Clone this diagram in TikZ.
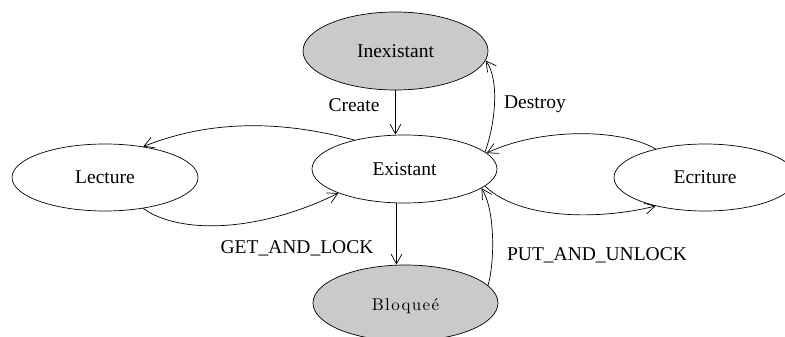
\documentclass[tikz,border=0pt]{standalone}
\usepackage{fontspec}
\setmainfont{Liberation Serif}
\newfontfamily\bloqfont[LetterSpace=8]{lmroman10-regular.otf}
\usetikzlibrary{shapes.geometric,arrows.meta,calc}
\definecolor{stategray}{RGB}{202,202,202}
\begin{document}
\begin{tikzpicture}[x=1pt,y=-1pt,
  state/.style={draw,ellipse,line width=0.7pt,minimum width=185pt,inner sep=0pt,font=\fontsize{19.5}{22}\selectfont},
  grey/.style={fill=stategray},
  conn/.style={line width=0.7pt,-{Straight Barb[length=10pt,width=11pt,line width=0.7pt]}},
  lbl/.style={font=\fontsize{19.5}{22}\selectfont,inner sep=0pt}]
\useasboundingbox (0,0) rectangle (785,337);
\clip (0,0) rectangle (785,337);
\node[state,grey,minimum height=78pt] (in) at (395.5,51) {Inexistant};
\node[state,minimum height=68pt] (ex) at (404.5,169) {Existant};
\node[state,minimum height=67pt,minimum width=186pt] (le) at (105,177.5) {Lecture};
\node[state,minimum height=67pt,minimum width=182pt] (ec) at (705,177.5) {Ecriture};
\node[state,grey,minimum height=76pt,font=\bloqfont\fontsize{17}{19}\selectfont,text depth=0pt,text height=14pt] (bl) at (405.5,303) {Bloqueé};
% Create
\draw[conn] (in.south) -- (in.south |- ex.north);
% Destroy
\draw[conn] (ex.12) .. controls (495,125) and (500,80) .. (in.-6);
% Existant -> Lecture
\draw[conn] (ex.150) .. controls (280,120) and (210,120) .. (le.39);
% Lecture -> Existant
\draw[conn] (le.-39) .. controls (180,235) and (260,232) .. (ex.200);
% Ecriture -> Existant
\draw[conn] (ec.150) .. controls (620,128) and (540,128) .. (ex.11);
% Existant -> Ecriture
\draw[conn] (ex.-12) .. controls (520,220) and (600,220) .. (ec.210);
% GET_AND_LOCK
\draw[conn] ($(ex.south)+(-8,0)$) -- ($(bl.north)+(-9,0)$);
% PUT_AND_UNLOCK
\draw[conn] (bl.12) .. controls (495,260) and (495,210) .. (ex.-14);
% labels
\node[lbl] (lcreate) at (354,105) {Create};
\node[lbl] (ldestroy) at (535,104) {Destroy};
\node[lbl] (lget) at (297,248) {GET\_AND\_LOCK};
\node[lbl] (lput) at (597,255) {PUT\_AND\_UNLOCK};
\end{tikzpicture}
\end{document}
